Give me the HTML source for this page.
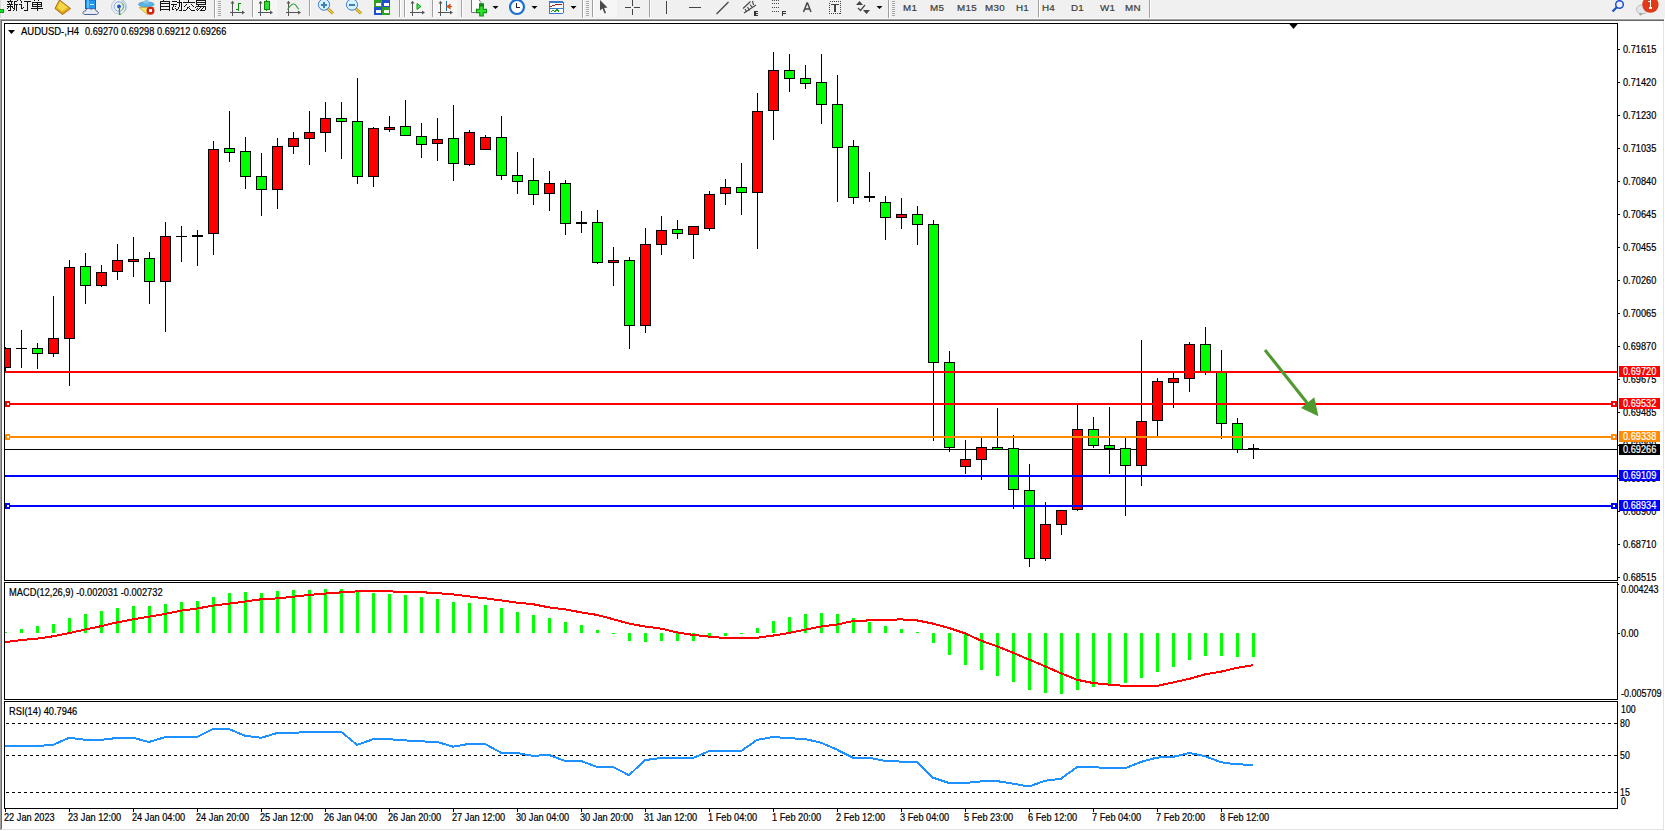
<!DOCTYPE html>
<html><head><meta charset="utf-8"><style>
html,body{margin:0;padding:0;width:1665px;height:831px;overflow:hidden;background:#fff}
svg{display:block;font-family:"Liberation Sans",sans-serif;font-size:10px}
text{stroke-width:0.2}
</style></head><body>
<svg width="1665" height="831" viewBox="0 0 1665 831" shape-rendering="crispEdges">
<defs>
<clipPath id="cm"><rect x="5" y="24" width="1612" height="556"/></clipPath>
<clipPath id="cd"><rect x="5" y="583" width="1612" height="116"/></clipPath>
<clipPath id="cr"><rect x="5" y="702" width="1612" height="106"/></clipPath>
</defs>
<!-- toolbar -->
<rect x="0" y="0" width="1665" height="19" fill="#f0f0f0"/>
<rect x="0" y="18" width="1665" height="1" fill="#f7f7f7"/>
<rect x="0" y="19" width="1664" height="1" fill="#a0a0a0"/>
<rect x="0" y="20" width="1664" height="1" fill="#696969"/>
<rect x="0" y="0" width="1" height="18" fill="#d8d8d8"/><rect x="0" y="9" width="4" height="4" fill="#0a9a0a"/><rect x="0" y="10" width="3" height="2" fill="#10e030"/><g fill="#141414"><rect x="10" y="0" width="1" height="1"/><rect x="7" y="1" width="6" height="1"/><rect x="8" y="2" width="1" height="1"/><rect x="9" y="3" width="1" height="1"/><rect x="11" y="2" width="1" height="2"/><rect x="7" y="4" width="6" height="1"/><rect x="10" y="5" width="1" height="5"/><rect x="7" y="6" width="6" height="1"/><rect x="8" y="7" width="1" height="1"/><rect x="7" y="8" width="1" height="1"/><rect x="12" y="7" width="1" height="1"/><rect x="13" y="8" width="1" height="1"/><rect x="8" y="10" width="3" height="1"/><rect x="17" y="0" width="1" height="1"/><rect x="14" y="1" width="3" height="1"/><rect x="14" y="2" width="1" height="8"/><rect x="13" y="10" width="1" height="1"/><rect x="14" y="4" width="4" height="1"/><rect x="16" y="5" width="1" height="6"/></g><g fill="#141414"><rect x="20" y="0" width="1" height="1"/><rect x="21" y="1" width="1" height="2"/><rect x="19" y="4" width="3" height="1"/><rect x="21" y="5" width="1" height="4"/><rect x="22" y="8" width="1" height="1"/><rect x="23" y="7" width="1" height="1"/><rect x="24" y="1" width="7" height="1"/><rect x="27" y="2" width="1" height="8"/><rect x="24" y="10" width="4" height="1"/></g><g fill="#141414"><rect x="34" y="0" width="1" height="1"/><rect x="38" y="0" width="1" height="1"/><rect x="32" y="2" width="1" height="5"/><rect x="41" y="2" width="1" height="5"/><rect x="33" y="2" width="8" height="1"/><rect x="33" y="4" width="8" height="1"/><rect x="33" y="6" width="8" height="1"/><rect x="37" y="3" width="1" height="8"/><rect x="31" y="8" width="12" height="1"/></g><polygon points="59.5,0 70.5,8.5 62.5,14.5 55,8.5" fill="#e8b820" stroke="#a86a10" stroke-width="1" shape-rendering="auto"/><polygon points="56.5,8.5 62.5,13 69,8.5 70.5,9 62.5,14.5 55.5,9.2" fill="#c88a20" shape-rendering="auto"/><polygon points="60,1.5 67.5,7.2 62,11 57.5,7.5" fill="#f7d84a" shape-rendering="auto"/><rect x="85.5" y="0" width="10" height="8.5" fill="#1e9af2" stroke="#1060c8" stroke-width="1" shape-rendering="auto"/><rect x="86.5" y="0" width="2" height="8" fill="#5cc0ff"/><rect x="90" y="4" width="4" height="1" fill="#fff"/><path d="M85,14.5 C82,14.5 82.5,10.5 85.5,11 C86,8 90,7.5 91,9.5 C92.5,7.8 96,8.5 96,11 C99,11 99,14.5 96.5,14.5 Z" fill="#e6eaf2" stroke="#4a64a0" stroke-width="1" shape-rendering="auto"/><g fill="none" shape-rendering="auto"><circle cx="119" cy="6.5" r="7.5" stroke="#a8c0e8" stroke-width="0.9"/><circle cx="119" cy="6.5" r="4.8" stroke="#7898d8" stroke-width="0.9"/><path d="M121.5,0.5 A7.5,7.5 0 0,1 124,12" stroke="#98c898" stroke-width="1"/><path d="M121,2.5 A4.8,4.8 0 0,1 122,10" stroke="#70b070" stroke-width="1"/><circle cx="119" cy="6.5" r="1.9" fill="#2050c0"/><path d="M119.5,7V14.3H120.8" stroke="#20a020" stroke-width="1.2"/></g><path d="M139,7.5 L154,7.5 L147.5,14.8 Z" fill="#f2e470" stroke="#c8a828" stroke-width="0.8" shape-rendering="auto"/><path d="M138.5,4.5 C138.5,1 154,1 154,4.5 C154,7.5 138.5,7.5 138.5,4.5 Z" fill="#5ab4e4" stroke="#3a88b8" stroke-width="0.7" shape-rendering="auto"/><path d="M143.5,3.5 L145,0 H148 L149,3.5 Z" fill="#80c8f0" shape-rendering="auto"/><circle cx="150.5" cy="10.8" r="4" fill="#d42412" shape-rendering="auto"/><rect x="149" y="9.3" width="3" height="3" fill="#fff"/><g fill="#141414"><rect x="163" y="0" width="1" height="1"/><rect x="160" y="1" width="1" height="10"/><rect x="169" y="1" width="1" height="10"/><rect x="161" y="1" width="8" height="1"/><rect x="161" y="3" width="8" height="1"/><rect x="161" y="6" width="8" height="1"/><rect x="161" y="9" width="8" height="1"/></g><g fill="#141414"><rect x="172" y="1" width="5" height="1"/><rect x="171" y="4" width="6" height="1"/><rect x="173" y="5" width="1" height="2"/><rect x="172" y="7" width="1" height="2"/><rect x="172" y="9" width="2" height="1"/><rect x="175" y="6" width="1" height="1"/><rect x="175" y="8" width="1" height="1"/><rect x="176" y="9" width="1" height="1"/><rect x="179" y="0" width="1" height="7"/><rect x="178" y="7" width="1" height="2"/><rect x="177" y="9" width="1" height="1"/><rect x="176" y="10" width="1" height="1"/><rect x="177" y="2" width="5" height="1"/><rect x="181" y="3" width="1" height="7"/><rect x="179" y="10" width="3" height="1"/></g><g fill="#141414"><rect x="188" y="0" width="1" height="2"/><rect x="183" y="2" width="12" height="1"/><rect x="186" y="4" width="1" height="1"/><rect x="185" y="5" width="1" height="1"/><rect x="184" y="6" width="1" height="1"/><rect x="191" y="4" width="1" height="1"/><rect x="192" y="5" width="1" height="1"/><rect x="193" y="6" width="1" height="1"/><rect x="189" y="6" width="1" height="1"/><rect x="188" y="7" width="1" height="1"/><rect x="187" y="8" width="1" height="1"/><rect x="186" y="9" width="1" height="1"/><rect x="183" y="10" width="3" height="1"/><rect x="187" y="7" width="1" height="1"/><rect x="189" y="8" width="1" height="1"/><rect x="190" y="9" width="1" height="1"/><rect x="191" y="10" width="4" height="1"/></g><g fill="#141414"><rect x="196" y="0" width="1" height="5"/><rect x="205" y="0" width="1" height="5"/><rect x="197" y="0" width="8" height="1"/><rect x="197" y="2" width="8" height="1"/><rect x="197" y="4" width="8" height="1"/><rect x="198" y="5" width="1" height="1"/><rect x="196" y="6" width="10" height="1"/><rect x="205" y="7" width="1" height="3"/><rect x="204" y="10" width="1" height="1"/><rect x="195" y="7" width="1" height="1"/><rect x="197" y="8" width="1" height="1"/><rect x="196" y="9" width="1" height="1"/><rect x="200" y="7" width="1" height="1"/><rect x="199" y="8" width="1" height="1"/><rect x="198" y="9" width="1" height="1"/><rect x="197" y="10" width="1" height="1"/><rect x="203" y="7" width="1" height="1"/><rect x="202" y="8" width="1" height="1"/><rect x="201" y="9" width="1" height="1"/><rect x="200" y="10" width="1" height="1"/><rect x="201" y="10" width="3" height="1"/></g><rect x="214" y="0" width="1" height="18" fill="#a0a0a0"/><rect x="215" y="0" width="1" height="18" fill="#fff"/><rect x="218" y="1" width="3" height="1" fill="#a8a8a8"/><rect x="218" y="3" width="3" height="1" fill="#a8a8a8"/><rect x="218" y="5" width="3" height="1" fill="#a8a8a8"/><rect x="218" y="7" width="3" height="1" fill="#a8a8a8"/><rect x="218" y="9" width="3" height="1" fill="#a8a8a8"/><rect x="218" y="11" width="3" height="1" fill="#a8a8a8"/><rect x="218" y="13" width="3" height="1" fill="#a8a8a8"/><rect x="218" y="15" width="3" height="1" fill="#a8a8a8"/><rect x="254" y="0" width="23" height="17" fill="#f6f6f6"/><path d="M232.5,1.5V15.5 M230,12.5H243.5" stroke="#555" stroke-width="1.2" fill="none"/><polygon points="230.5,3.5 232.5,0.8 234.5,3.5" fill="#555" shape-rendering="auto"/><polygon points="242,10.5 245,12.5 242,14.5" fill="#555" shape-rendering="auto"/><path d="M238.5,2.5V10.5 M238.5,3.5H241 M236,9.5H238.5" stroke="#109010" stroke-width="1.2" fill="none"/><rect x="252" y="0" width="1" height="17" fill="#a0a0a0"/><rect x="253" y="0" width="1" height="17" fill="#fff"/><path d="M260.5,1.5V15.5 M258,12.5H271.5" stroke="#555" stroke-width="1.2" fill="none"/><polygon points="258.5,3.5 260.5,0.8 262.5,3.5" fill="#555" shape-rendering="auto"/><polygon points="270,10.5 273,12.5 270,14.5" fill="#555" shape-rendering="auto"/><rect x="266" y="0" width="1" height="10.5" fill="#0a8a0a"/><rect x="264" y="1.5" width="5" height="7.5" fill="#30e030" stroke="#0a8a0a" stroke-width="1"/><path d="M288.5,1.5V15.5 M286,12.5H299.5" stroke="#555" stroke-width="1.2" fill="none"/><polygon points="286.5,3.5 288.5,0.8 290.5,3.5" fill="#555" shape-rendering="auto"/><polygon points="298,10.5 301,12.5 298,14.5" fill="#555" shape-rendering="auto"/><path d="M287.5,9.5 Q293,1 296,5.5 T298.5,8.5" stroke="#30a030" stroke-width="1.1" fill="none" shape-rendering="auto"/><rect x="309" y="0" width="1" height="16" fill="#a0a0a0"/><rect x="310" y="0" width="1" height="16" fill="#fff"/><path d="M327.5,8.5L333,13.5" stroke="#b08010" stroke-width="3" shape-rendering="auto"/><path d="M327.5,8.5L333,13.5" stroke="#f0d040" stroke-width="1.6" shape-rendering="auto"/><circle cx="324" cy="4.6" r="5.6" fill="#d8f2ff" stroke="#3a7cc8" stroke-width="1" shape-rendering="auto"/><rect x="321" y="4" width="6" height="1.6" fill="#3a80b8"/><rect x="323.2" y="1.8" width="1.6" height="6" fill="#3a80b8"/><path d="M355.5,8.5L361,13.5" stroke="#b08010" stroke-width="3" shape-rendering="auto"/><path d="M355.5,8.5L361,13.5" stroke="#f0d040" stroke-width="1.6" shape-rendering="auto"/><circle cx="352" cy="4.6" r="5.6" fill="#d8f2ff" stroke="#3a7cc8" stroke-width="1" shape-rendering="auto"/><rect x="349" y="4" width="6" height="1.6" fill="#3a80b8"/><rect x="374" y="0" width="8" height="7" fill="#30a020"/><rect x="382" y="0" width="8" height="7" fill="#2050d0"/><rect x="374" y="7" width="8" height="8" fill="#2050d0"/><rect x="382" y="7" width="8" height="8" fill="#30a020"/><rect x="375.5" y="2.5" width="5" height="3" fill="#fff"/><rect x="383.5" y="2.5" width="5" height="3" fill="#fff"/><rect x="375.5" y="10" width="5" height="3" fill="#fff"/><rect x="383.5" y="10" width="5" height="3" fill="#fff"/><rect x="399" y="0" width="1" height="17" fill="#a0a0a0"/><rect x="400" y="0" width="1" height="17" fill="#fff"/><rect x="404" y="0" width="1" height="17" fill="#a0a0a0"/><rect x="405" y="0" width="1" height="17" fill="#fff"/><rect x="406" y="0" width="23" height="17" fill="#f6f6f6"/><path d="M412.5,1.5V15.5 M410,12.5H423.5" stroke="#555" stroke-width="1.2" fill="none"/><polygon points="410.5,3.5 412.5,0.8 414.5,3.5" fill="#555" shape-rendering="auto"/><polygon points="422,10.5 425,12.5 422,14.5" fill="#555" shape-rendering="auto"/><polygon points="417,3.5 421,6.5 417,9.5" fill="#50e050" stroke="#10a010" stroke-width="1" shape-rendering="auto"/><rect x="432" y="0" width="1" height="17" fill="#a0a0a0"/><rect x="433" y="0" width="1" height="17" fill="#fff"/><rect x="434" y="0" width="23" height="17" fill="#f6f6f6"/><path d="M440.5,1.5V15.5 M438,12.5H451.5" stroke="#555" stroke-width="1.2" fill="none"/><polygon points="438.5,3.5 440.5,0.8 442.5,3.5" fill="#555" shape-rendering="auto"/><polygon points="450,10.5 453,12.5 450,14.5" fill="#555" shape-rendering="auto"/><rect x="446" y="1" width="1" height="10" fill="#1a70a0"/><path d="M447,6.5L450,4.5V8.5Z M449,6.5H452" stroke="#e05010" stroke-width="1.2" fill="#e05010" shape-rendering="auto"/><rect x="461" y="0" width="1" height="17" fill="#a0a0a0"/><rect x="462" y="0" width="1" height="17" fill="#fff"/><path d="M471.5,0V12.5H481V2.5L479,0" fill="#fff" stroke="#777" stroke-width="1" shape-rendering="auto"/><path d="M479,5.5H484 M481.5,5.5V16.5 M476,11H487" stroke="#0a8a0a" stroke-width="4.6" shape-rendering="auto"/><path d="M481.5,6.5V15.5 M477,11H486" stroke="#30e030" stroke-width="2.6" shape-rendering="auto"/><polygon points="492.5,6 498.5,6 495.5,9" fill="#000" shape-rendering="auto"/><circle cx="517" cy="7" r="7" fill="#fff" stroke="#1a70d0" stroke-width="2.2" shape-rendering="auto"/><path d="M516.5,3V7.5H519.5" stroke="#222" stroke-width="1" fill="none"/><polygon points="531.5,6 537.5,6 534.5,9" fill="#000" shape-rendering="auto"/><rect x="548.5" y="0.5" width="15" height="13.5" fill="#3a7ac8" rx="1"/><rect x="549.5" y="2.5" width="13" height="5.5" fill="#fff"/><rect x="549.5" y="9" width="13" height="4" fill="#fff"/><path d="M550,6H552L553.5,5H555L556,4L558,5L560,4H562" stroke="#a02010" stroke-width="1" fill="none"/><path d="M551,11.5L553,10.5L555,11.5L557,9.5L559,11.5" stroke="#10a010" stroke-width="1" fill="none"/><polygon points="570.5,6 576.5,6 573.5,9" fill="#000" shape-rendering="auto"/><rect x="582" y="0" width="1" height="18" fill="#a0a0a0"/><rect x="583" y="0" width="1" height="18" fill="#fff"/><rect x="586" y="1" width="3" height="1" fill="#a8a8a8"/><rect x="586" y="3" width="3" height="1" fill="#a8a8a8"/><rect x="586" y="5" width="3" height="1" fill="#a8a8a8"/><rect x="586" y="7" width="3" height="1" fill="#a8a8a8"/><rect x="586" y="9" width="3" height="1" fill="#a8a8a8"/><rect x="586" y="11" width="3" height="1" fill="#a8a8a8"/><rect x="586" y="13" width="3" height="1" fill="#a8a8a8"/><rect x="586" y="15" width="3" height="1" fill="#a8a8a8"/><rect x="592" y="0" width="1" height="17" fill="#a0a0a0"/><rect x="593" y="0" width="1" height="17" fill="#fff"/><rect x="594" y="0" width="23" height="17" fill="#f6f6f6"/><polygon points="600,0 600,10.5 602.5,8.5 604.5,13.5 606,13 604.2,8 607.5,7.5" fill="#4a4a4a" shape-rendering="auto"/><path d="M625,7.5H631 M634,7.5H640 M632.5,0V6 M632.5,9V15" stroke="#444" stroke-width="1.2" fill="none"/><rect x="649" y="0" width="1" height="17" fill="#a0a0a0"/><rect x="650" y="0" width="1" height="17" fill="#fff"/><rect x="666" y="1" width="1.3" height="13" fill="#444"/><rect x="689" y="7" width="12" height="1.3" fill="#444"/><path d="M716.5,14L728.5,2" stroke="#444" stroke-width="1.2" fill="none" shape-rendering="auto"/><path d="M743,8.5L750.5,1.5 M744,13L756,5 M745,9L747,12 M747.5,7L749.5,10.5 M750,4.5L752.5,8 M752.5,1L753.5,5" stroke="#444" stroke-width="1.1" fill="none" shape-rendering="auto"/><path d="M758,11.5H755V15.5H758 M755,13.5H757.5" stroke="#333" stroke-width="1.1" fill="none"/><path d="M772,0.5H780 M772,3.5H780 M772,7.5H780 M772,11.5H779" stroke="#444" stroke-width="1" stroke-dasharray="1,1" fill="none"/><path d="M786,11.5H782.5V16 M782.5,13.5H785.5" stroke="#333" stroke-width="1.1" fill="none"/><path d="M803.5,12L807,3H807.5L811,12 M804.8,9H809.7" stroke="#444" stroke-width="1.4" fill="none" shape-rendering="auto"/><rect x="829.5" y="1.5" width="11" height="12" fill="none" stroke="#444" stroke-width="1" stroke-dasharray="1,1"/><path d="M831,4.5H839 M835,4.5V12" stroke="#444" stroke-width="1.4" fill="none"/><polygon points="856,5 859.5,1 863,5" fill="#444" shape-rendering="auto"/><polygon points="863,10 870,10 866.5,14" fill="#444" shape-rendering="auto"/><path d="M858,8L860.5,10.5L865,5" stroke="#444" stroke-width="1.2" fill="none" shape-rendering="auto"/><polygon points="876.5,6 882.5,6 879.5,9" fill="#000" shape-rendering="auto"/><rect x="888" y="0" width="1" height="18" fill="#a0a0a0"/><rect x="889" y="0" width="1" height="18" fill="#fff"/><rect x="892" y="1" width="3" height="1" fill="#a8a8a8"/><rect x="892" y="3" width="3" height="1" fill="#a8a8a8"/><rect x="892" y="5" width="3" height="1" fill="#a8a8a8"/><rect x="892" y="7" width="3" height="1" fill="#a8a8a8"/><rect x="892" y="9" width="3" height="1" fill="#a8a8a8"/><rect x="892" y="11" width="3" height="1" fill="#a8a8a8"/><rect x="892" y="13" width="3" height="1" fill="#a8a8a8"/><rect x="892" y="15" width="3" height="1" fill="#a8a8a8"/><text x="903" y="11" font-size="9.8" fill="#3a3a3a" stroke="#3a3a3a" stroke-width="0.05" letter-spacing="0.3">M1</text><text x="930" y="11" font-size="9.8" fill="#3a3a3a" stroke="#3a3a3a" stroke-width="0.05" letter-spacing="0.3">M5</text><text x="957" y="11" font-size="9.8" fill="#3a3a3a" stroke="#3a3a3a" stroke-width="0.05" letter-spacing="0.3">M15</text><text x="985" y="11" font-size="9.8" fill="#3a3a3a" stroke="#3a3a3a" stroke-width="0.05" letter-spacing="0.3">M30</text><text x="1016" y="11" font-size="9.8" fill="#3a3a3a" stroke="#3a3a3a" stroke-width="0.05" letter-spacing="0.3">H1</text><text x="1042" y="11" font-size="9.8" fill="#3a3a3a" stroke="#3a3a3a" stroke-width="0.05" letter-spacing="0.3">H4</text><text x="1071" y="11" font-size="9.8" fill="#3a3a3a" stroke="#3a3a3a" stroke-width="0.05" letter-spacing="0.3">D1</text><text x="1100" y="11" font-size="9.8" fill="#3a3a3a" stroke="#3a3a3a" stroke-width="0.05" letter-spacing="0.3">W1</text><text x="1125" y="11" font-size="9.8" fill="#3a3a3a" stroke="#3a3a3a" stroke-width="0.05" letter-spacing="0.3">MN</text><rect x="1038" y="0" width="1" height="17" fill="#a0a0a0"/><rect x="1039" y="0" width="1" height="17" fill="#fff"/><rect x="1149" y="0" width="1" height="18" fill="#a0a0a0"/><rect x="1150" y="0" width="1" height="18" fill="#fff"/><circle cx="1619.5" cy="4.5" r="3.8" fill="#eef" stroke="#1a50c8" stroke-width="1.5" shape-rendering="auto"/><path d="M1617,7L1612.5,11.5" stroke="#1a50c8" stroke-width="2.2" shape-rendering="auto"/><ellipse cx="1642" cy="9.5" rx="5.5" ry="4.5" fill="#e4e6ee" stroke="#b8b8b8" stroke-width="1" shape-rendering="auto"/><polygon points="1639,13 1640,16 1643,13" fill="#a0a0a0" shape-rendering="auto"/><circle cx="1650.4" cy="4.6" r="8.2" fill="#e03a18" shape-rendering="auto"/><path d="M1648.5,8H1652 M1650.3,8V1L1648.8,2" stroke="#fff" stroke-width="1.2" fill="none"/>
<!-- window edges -->
<rect x="0" y="19" width="1" height="811" fill="#a0a0a0"/>
<rect x="1" y="20" width="1" height="809" fill="#696969"/>
<rect x="1663" y="21" width="1" height="809" fill="#e3e3e3"/>
<rect x="1" y="829" width="1663" height="1" fill="#e3e3e3"/>
<!-- frames -->
<rect x="4" y="23" width="1614" height="1" fill="#000"/>
<rect x="4" y="580" width="1614" height="1" fill="#000"/>
<rect x="4" y="582" width="1614" height="1" fill="#000"/>
<rect x="4" y="699" width="1614" height="1" fill="#000"/>
<rect x="4" y="701" width="1614" height="1" fill="#000"/>
<rect x="4" y="808" width="1614" height="1" fill="#000"/>
<rect x="4" y="23" width="1" height="558" fill="#000"/>
<rect x="4" y="582" width="1" height="118" fill="#000"/>
<rect x="4" y="701" width="1" height="108" fill="#000"/>
<rect x="1617" y="23" width="1" height="558" fill="#000"/>
<rect x="1617" y="582" width="1" height="118" fill="#000"/>
<rect x="1617" y="701" width="1" height="108" fill="#000"/>
<polygon points="1288.5,23 1298.5,23 1293.5,29" fill="#000" shape-rendering="auto"/>
<g clip-path="url(#cm)"><rect x="5" y="449" width="1612" height="1" fill="#000"/><rect x="5" y="347" width="1" height="24" fill="#000"/><rect x="0" y="348" width="11" height="20" fill="#000"/><rect x="1" y="349" width="9" height="18" fill="#ff0000"/><rect x="21" y="330" width="1" height="38" fill="#000"/><rect x="16" y="348" width="11" height="1" fill="#000"/><rect x="37" y="343" width="1" height="26" fill="#000"/><rect x="32" y="348" width="11" height="6" fill="#000"/><rect x="33" y="349" width="9" height="4" fill="#00ff00"/><rect x="53" y="296" width="1" height="61" fill="#000"/><rect x="48" y="338" width="11" height="16" fill="#000"/><rect x="49" y="339" width="9" height="14" fill="#ff0000"/><rect x="69" y="260" width="1" height="126" fill="#000"/><rect x="64" y="267" width="11" height="72" fill="#000"/><rect x="65" y="268" width="9" height="70" fill="#ff0000"/><rect x="85" y="253" width="1" height="51" fill="#000"/><rect x="80" y="266" width="11" height="20" fill="#000"/><rect x="81" y="267" width="9" height="18" fill="#00ff00"/><rect x="101" y="265" width="1" height="22" fill="#000"/><rect x="96" y="272" width="11" height="14" fill="#000"/><rect x="97" y="273" width="9" height="12" fill="#ff0000"/><rect x="117" y="244" width="1" height="36" fill="#000"/><rect x="112" y="260" width="11" height="12" fill="#000"/><rect x="113" y="261" width="9" height="10" fill="#ff0000"/><rect x="133" y="237" width="1" height="40" fill="#000"/><rect x="128" y="259" width="11" height="3" fill="#000"/><rect x="129" y="260" width="9" height="1" fill="#ff0000"/><rect x="149" y="252" width="1" height="52" fill="#000"/><rect x="144" y="258" width="11" height="24" fill="#000"/><rect x="145" y="259" width="9" height="22" fill="#00ff00"/><rect x="165" y="222" width="1" height="110" fill="#000"/><rect x="160" y="236" width="11" height="46" fill="#000"/><rect x="161" y="237" width="9" height="44" fill="#ff0000"/><rect x="181" y="226" width="1" height="36" fill="#000"/><rect x="176" y="236" width="11" height="1" fill="#000"/><rect x="197" y="230" width="1" height="36" fill="#000"/><rect x="192" y="235" width="11" height="2" fill="#000"/><rect x="213" y="141" width="1" height="114" fill="#000"/><rect x="208" y="149" width="11" height="85" fill="#000"/><rect x="209" y="150" width="9" height="83" fill="#ff0000"/><rect x="229" y="111" width="1" height="51" fill="#000"/><rect x="224" y="148" width="11" height="5" fill="#000"/><rect x="225" y="149" width="9" height="3" fill="#00ff00"/><rect x="245" y="137" width="1" height="52" fill="#000"/><rect x="240" y="151" width="11" height="26" fill="#000"/><rect x="241" y="152" width="9" height="24" fill="#00ff00"/><rect x="261" y="153" width="1" height="63" fill="#000"/><rect x="256" y="176" width="11" height="14" fill="#000"/><rect x="257" y="177" width="9" height="12" fill="#00ff00"/><rect x="277" y="138" width="1" height="71" fill="#000"/><rect x="272" y="146" width="11" height="44" fill="#000"/><rect x="273" y="147" width="9" height="42" fill="#ff0000"/><rect x="293" y="132" width="1" height="22" fill="#000"/><rect x="288" y="138" width="11" height="9" fill="#000"/><rect x="289" y="139" width="9" height="7" fill="#ff0000"/><rect x="309" y="111" width="1" height="54" fill="#000"/><rect x="304" y="132" width="11" height="7" fill="#000"/><rect x="305" y="133" width="9" height="5" fill="#ff0000"/><rect x="325" y="102" width="1" height="50" fill="#000"/><rect x="320" y="118" width="11" height="15" fill="#000"/><rect x="321" y="119" width="9" height="13" fill="#ff0000"/><rect x="341" y="102" width="1" height="57" fill="#000"/><rect x="336" y="118" width="11" height="4" fill="#000"/><rect x="337" y="119" width="9" height="2" fill="#00ff00"/><rect x="357" y="78" width="1" height="106" fill="#000"/><rect x="352" y="121" width="11" height="56" fill="#000"/><rect x="353" y="122" width="9" height="54" fill="#00ff00"/><rect x="373" y="127" width="1" height="60" fill="#000"/><rect x="368" y="128" width="11" height="49" fill="#000"/><rect x="369" y="129" width="9" height="47" fill="#ff0000"/><rect x="389" y="116" width="1" height="16" fill="#000"/><rect x="384" y="127" width="11" height="3" fill="#000"/><rect x="385" y="128" width="9" height="1" fill="#ff0000"/><rect x="405" y="100" width="1" height="36" fill="#000"/><rect x="400" y="126" width="11" height="10" fill="#000"/><rect x="401" y="127" width="9" height="8" fill="#00ff00"/><rect x="421" y="123" width="1" height="35" fill="#000"/><rect x="416" y="136" width="11" height="9" fill="#000"/><rect x="417" y="137" width="9" height="7" fill="#00ff00"/><rect x="437" y="118" width="1" height="43" fill="#000"/><rect x="432" y="139" width="11" height="5" fill="#000"/><rect x="433" y="140" width="9" height="3" fill="#ff0000"/><rect x="453" y="105" width="1" height="76" fill="#000"/><rect x="448" y="138" width="11" height="26" fill="#000"/><rect x="449" y="139" width="9" height="24" fill="#00ff00"/><rect x="469" y="130" width="1" height="36" fill="#000"/><rect x="464" y="132" width="11" height="33" fill="#000"/><rect x="465" y="133" width="9" height="31" fill="#ff0000"/><rect x="485" y="135" width="1" height="15" fill="#000"/><rect x="480" y="137" width="11" height="13" fill="#000"/><rect x="481" y="138" width="9" height="11" fill="#ff0000"/><rect x="501" y="116" width="1" height="64" fill="#000"/><rect x="496" y="137" width="11" height="39" fill="#000"/><rect x="497" y="138" width="9" height="37" fill="#00ff00"/><rect x="517" y="152" width="1" height="42" fill="#000"/><rect x="512" y="175" width="11" height="7" fill="#000"/><rect x="513" y="176" width="9" height="5" fill="#00ff00"/><rect x="533" y="158" width="1" height="47" fill="#000"/><rect x="528" y="180" width="11" height="15" fill="#000"/><rect x="529" y="181" width="9" height="13" fill="#00ff00"/><rect x="549" y="171" width="1" height="40" fill="#000"/><rect x="544" y="183" width="11" height="11" fill="#000"/><rect x="545" y="184" width="9" height="9" fill="#ff0000"/><rect x="565" y="180" width="1" height="55" fill="#000"/><rect x="560" y="183" width="11" height="41" fill="#000"/><rect x="561" y="184" width="9" height="39" fill="#00ff00"/><rect x="581" y="211" width="1" height="22" fill="#000"/><rect x="576" y="222" width="11" height="2" fill="#000"/><rect x="597" y="210" width="1" height="54" fill="#000"/><rect x="592" y="222" width="11" height="41" fill="#000"/><rect x="593" y="223" width="9" height="39" fill="#00ff00"/><rect x="613" y="247" width="1" height="39" fill="#000"/><rect x="608" y="260" width="11" height="3" fill="#000"/><rect x="609" y="261" width="9" height="1" fill="#ff0000"/><rect x="629" y="257" width="1" height="92" fill="#000"/><rect x="624" y="260" width="11" height="66" fill="#000"/><rect x="625" y="261" width="9" height="64" fill="#00ff00"/><rect x="645" y="228" width="1" height="105" fill="#000"/><rect x="640" y="244" width="11" height="82" fill="#000"/><rect x="641" y="245" width="9" height="80" fill="#ff0000"/><rect x="661" y="216" width="1" height="39" fill="#000"/><rect x="656" y="230" width="11" height="15" fill="#000"/><rect x="657" y="231" width="9" height="13" fill="#ff0000"/><rect x="677" y="220" width="1" height="19" fill="#000"/><rect x="672" y="229" width="11" height="5" fill="#000"/><rect x="673" y="230" width="9" height="3" fill="#00ff00"/><rect x="693" y="226" width="1" height="33" fill="#000"/><rect x="688" y="226" width="11" height="9" fill="#000"/><rect x="689" y="227" width="9" height="7" fill="#ff0000"/><rect x="709" y="191" width="1" height="40" fill="#000"/><rect x="704" y="194" width="11" height="35" fill="#000"/><rect x="705" y="195" width="9" height="33" fill="#ff0000"/><rect x="725" y="179" width="1" height="26" fill="#000"/><rect x="720" y="187" width="11" height="7" fill="#000"/><rect x="721" y="188" width="9" height="5" fill="#ff0000"/><rect x="741" y="163" width="1" height="52" fill="#000"/><rect x="736" y="187" width="11" height="6" fill="#000"/><rect x="737" y="188" width="9" height="4" fill="#00ff00"/><rect x="757" y="93" width="1" height="156" fill="#000"/><rect x="752" y="111" width="11" height="82" fill="#000"/><rect x="753" y="112" width="9" height="80" fill="#ff0000"/><rect x="773" y="52" width="1" height="88" fill="#000"/><rect x="768" y="70" width="11" height="41" fill="#000"/><rect x="769" y="71" width="9" height="39" fill="#ff0000"/><rect x="789" y="54" width="1" height="38" fill="#000"/><rect x="784" y="70" width="11" height="9" fill="#000"/><rect x="785" y="71" width="9" height="7" fill="#00ff00"/><rect x="805" y="65" width="1" height="24" fill="#000"/><rect x="800" y="78" width="11" height="6" fill="#000"/><rect x="801" y="79" width="9" height="4" fill="#00ff00"/><rect x="821" y="54" width="1" height="70" fill="#000"/><rect x="816" y="82" width="11" height="23" fill="#000"/><rect x="817" y="83" width="9" height="21" fill="#00ff00"/><rect x="837" y="75" width="1" height="127" fill="#000"/><rect x="832" y="104" width="11" height="44" fill="#000"/><rect x="833" y="105" width="9" height="42" fill="#00ff00"/><rect x="853" y="140" width="1" height="64" fill="#000"/><rect x="848" y="146" width="11" height="52" fill="#000"/><rect x="849" y="147" width="9" height="50" fill="#00ff00"/><rect x="869" y="172" width="1" height="30" fill="#000"/><rect x="864" y="196" width="11" height="2" fill="#000"/><rect x="885" y="196" width="1" height="44" fill="#000"/><rect x="880" y="202" width="11" height="16" fill="#000"/><rect x="881" y="203" width="9" height="14" fill="#00ff00"/><rect x="901" y="198" width="1" height="31" fill="#000"/><rect x="896" y="214" width="11" height="4" fill="#000"/><rect x="897" y="215" width="9" height="2" fill="#ff0000"/><rect x="917" y="206" width="1" height="39" fill="#000"/><rect x="912" y="214" width="11" height="11" fill="#000"/><rect x="913" y="215" width="9" height="9" fill="#00ff00"/><rect x="933" y="220" width="1" height="221" fill="#000"/><rect x="928" y="224" width="11" height="139" fill="#000"/><rect x="929" y="225" width="9" height="137" fill="#00ff00"/><rect x="949" y="351" width="1" height="101" fill="#000"/><rect x="944" y="362" width="11" height="86" fill="#000"/><rect x="945" y="363" width="9" height="84" fill="#00ff00"/><rect x="965" y="440" width="1" height="34" fill="#000"/><rect x="960" y="459" width="11" height="8" fill="#000"/><rect x="961" y="460" width="9" height="6" fill="#ff0000"/><rect x="981" y="438" width="1" height="42" fill="#000"/><rect x="976" y="447" width="11" height="13" fill="#000"/><rect x="977" y="448" width="9" height="11" fill="#ff0000"/><rect x="997" y="408" width="1" height="42" fill="#000"/><rect x="992" y="447" width="11" height="3" fill="#000"/><rect x="993" y="448" width="9" height="1" fill="#00ff00"/><rect x="1013" y="435" width="1" height="74" fill="#000"/><rect x="1008" y="448" width="11" height="42" fill="#000"/><rect x="1009" y="449" width="9" height="40" fill="#00ff00"/><rect x="1029" y="464" width="1" height="103" fill="#000"/><rect x="1024" y="490" width="11" height="69" fill="#000"/><rect x="1025" y="491" width="9" height="67" fill="#00ff00"/><rect x="1045" y="502" width="1" height="59" fill="#000"/><rect x="1040" y="524" width="11" height="35" fill="#000"/><rect x="1041" y="525" width="9" height="33" fill="#ff0000"/><rect x="1061" y="510" width="1" height="25" fill="#000"/><rect x="1056" y="510" width="11" height="15" fill="#000"/><rect x="1057" y="511" width="9" height="13" fill="#ff0000"/><rect x="1077" y="404" width="1" height="107" fill="#000"/><rect x="1072" y="429" width="11" height="81" fill="#000"/><rect x="1073" y="430" width="9" height="79" fill="#ff0000"/><rect x="1093" y="417" width="1" height="31" fill="#000"/><rect x="1088" y="429" width="11" height="17" fill="#000"/><rect x="1089" y="430" width="9" height="15" fill="#00ff00"/><rect x="1109" y="407" width="1" height="67" fill="#000"/><rect x="1104" y="445" width="11" height="4" fill="#000"/><rect x="1105" y="446" width="9" height="2" fill="#00ff00"/><rect x="1125" y="438" width="1" height="78" fill="#000"/><rect x="1120" y="448" width="11" height="18" fill="#000"/><rect x="1121" y="449" width="9" height="16" fill="#00ff00"/><rect x="1141" y="340" width="1" height="146" fill="#000"/><rect x="1136" y="421" width="11" height="45" fill="#000"/><rect x="1137" y="422" width="9" height="43" fill="#ff0000"/><rect x="1157" y="378" width="1" height="59" fill="#000"/><rect x="1152" y="381" width="11" height="40" fill="#000"/><rect x="1153" y="382" width="9" height="38" fill="#ff0000"/><rect x="1173" y="373" width="1" height="35" fill="#000"/><rect x="1168" y="378" width="11" height="5" fill="#000"/><rect x="1169" y="379" width="9" height="3" fill="#ff0000"/><rect x="1189" y="342" width="1" height="50" fill="#000"/><rect x="1184" y="344" width="11" height="35" fill="#000"/><rect x="1185" y="345" width="9" height="33" fill="#ff0000"/><rect x="1205" y="327" width="1" height="48" fill="#000"/><rect x="1200" y="344" width="11" height="28" fill="#000"/><rect x="1201" y="345" width="9" height="26" fill="#00ff00"/><rect x="1221" y="350" width="1" height="89" fill="#000"/><rect x="1216" y="372" width="11" height="52" fill="#000"/><rect x="1217" y="373" width="9" height="50" fill="#00ff00"/><rect x="1237" y="418" width="1" height="35" fill="#000"/><rect x="1232" y="423" width="11" height="27" fill="#000"/><rect x="1233" y="424" width="9" height="25" fill="#00ff00"/><rect x="1253" y="444" width="1" height="15" fill="#000"/><rect x="1248" y="448" width="11" height="1" fill="#000"/><rect x="5" y="371" width="1612" height="2" fill="#ff0000"/><rect x="5" y="403" width="1612" height="2" fill="#ff0000"/><rect x="5" y="401" width="5" height="6" fill="#ff0000"/><rect x="7" y="403" width="2" height="2" fill="#fff"/><rect x="1611" y="401" width="6" height="6" fill="#ff0000"/><rect x="1613" y="403" width="2" height="2" fill="#fff"/><rect x="5" y="436" width="1612" height="2" fill="#ff8c00"/><rect x="5" y="434" width="5" height="6" fill="#ff8c00"/><rect x="7" y="436" width="2" height="2" fill="#fff"/><rect x="1611" y="434" width="6" height="6" fill="#ff8c00"/><rect x="1613" y="436" width="2" height="2" fill="#fff"/><rect x="5" y="475" width="1612" height="2" fill="#0000ff"/><rect x="5" y="505" width="1612" height="2" fill="#0000ff"/><rect x="5" y="503" width="5" height="6" fill="#0000ff"/><rect x="7" y="505" width="2" height="2" fill="#fff"/><rect x="1611" y="503" width="6" height="6" fill="#0000ff"/><rect x="1613" y="505" width="2" height="2" fill="#fff"/></g>
<g clip-path="url(#cd)"><rect x="5" y="632" width="2" height="1" fill="#00ff00"/><rect x="20" y="629" width="3" height="4" fill="#00ff00"/><rect x="36" y="626" width="3" height="7" fill="#00ff00"/><rect x="52" y="624" width="3" height="9" fill="#00ff00"/><rect x="68" y="618" width="3" height="15" fill="#00ff00"/><rect x="84" y="614" width="3" height="19" fill="#00ff00"/><rect x="100" y="611" width="3" height="22" fill="#00ff00"/><rect x="116" y="608" width="3" height="25" fill="#00ff00"/><rect x="132" y="606" width="3" height="27" fill="#00ff00"/><rect x="148" y="606" width="3" height="27" fill="#00ff00"/><rect x="164" y="604" width="3" height="29" fill="#00ff00"/><rect x="180" y="602" width="3" height="31" fill="#00ff00"/><rect x="196" y="601" width="3" height="32" fill="#00ff00"/><rect x="212" y="597" width="3" height="36" fill="#00ff00"/><rect x="228" y="593" width="3" height="40" fill="#00ff00"/><rect x="244" y="592" width="3" height="41" fill="#00ff00"/><rect x="260" y="593" width="3" height="40" fill="#00ff00"/><rect x="276" y="591" width="3" height="42" fill="#00ff00"/><rect x="292" y="590" width="3" height="43" fill="#00ff00"/><rect x="308" y="590" width="3" height="43" fill="#00ff00"/><rect x="324" y="589" width="3" height="44" fill="#00ff00"/><rect x="340" y="589" width="3" height="44" fill="#00ff00"/><rect x="356" y="592" width="3" height="41" fill="#00ff00"/><rect x="372" y="593" width="3" height="40" fill="#00ff00"/><rect x="388" y="594" width="3" height="39" fill="#00ff00"/><rect x="404" y="595" width="3" height="38" fill="#00ff00"/><rect x="420" y="597" width="3" height="36" fill="#00ff00"/><rect x="436" y="599" width="3" height="34" fill="#00ff00"/><rect x="452" y="602" width="3" height="31" fill="#00ff00"/><rect x="468" y="603" width="3" height="30" fill="#00ff00"/><rect x="484" y="605" width="3" height="28" fill="#00ff00"/><rect x="500" y="608" width="3" height="25" fill="#00ff00"/><rect x="516" y="612" width="3" height="21" fill="#00ff00"/><rect x="532" y="615" width="3" height="18" fill="#00ff00"/><rect x="548" y="618" width="3" height="15" fill="#00ff00"/><rect x="564" y="622" width="3" height="11" fill="#00ff00"/><rect x="580" y="625" width="3" height="8" fill="#00ff00"/><rect x="596" y="630" width="3" height="3" fill="#00ff00"/><rect x="612" y="633" width="3" height="1" fill="#00ff00"/><rect x="628" y="633" width="3" height="8" fill="#00ff00"/><rect x="644" y="633" width="3" height="9" fill="#00ff00"/><rect x="660" y="633" width="3" height="8" fill="#00ff00"/><rect x="676" y="633" width="3" height="8" fill="#00ff00"/><rect x="692" y="633" width="3" height="8" fill="#00ff00"/><rect x="708" y="633" width="3" height="4" fill="#00ff00"/><rect x="724" y="633" width="3" height="3" fill="#00ff00"/><rect x="740" y="633" width="3" height="1" fill="#00ff00"/><rect x="756" y="628" width="3" height="5" fill="#00ff00"/><rect x="772" y="621" width="3" height="12" fill="#00ff00"/><rect x="788" y="617" width="3" height="16" fill="#00ff00"/><rect x="804" y="614" width="3" height="19" fill="#00ff00"/><rect x="820" y="613" width="3" height="20" fill="#00ff00"/><rect x="836" y="614" width="3" height="19" fill="#00ff00"/><rect x="852" y="618" width="3" height="15" fill="#00ff00"/><rect x="868" y="622" width="3" height="11" fill="#00ff00"/><rect x="884" y="626" width="3" height="7" fill="#00ff00"/><rect x="900" y="629" width="3" height="4" fill="#00ff00"/><rect x="916" y="632" width="3" height="1" fill="#00ff00"/><rect x="932" y="633" width="3" height="10" fill="#00ff00"/><rect x="948" y="633" width="3" height="22" fill="#00ff00"/><rect x="964" y="633" width="3" height="32" fill="#00ff00"/><rect x="980" y="633" width="3" height="37" fill="#00ff00"/><rect x="996" y="633" width="3" height="43" fill="#00ff00"/><rect x="1012" y="633" width="3" height="49" fill="#00ff00"/><rect x="1028" y="633" width="3" height="57" fill="#00ff00"/><rect x="1044" y="633" width="3" height="60" fill="#00ff00"/><rect x="1060" y="633" width="3" height="61" fill="#00ff00"/><rect x="1076" y="633" width="3" height="57" fill="#00ff00"/><rect x="1092" y="633" width="3" height="54" fill="#00ff00"/><rect x="1108" y="633" width="3" height="51" fill="#00ff00"/><rect x="1124" y="633" width="3" height="50" fill="#00ff00"/><rect x="1140" y="633" width="3" height="45" fill="#00ff00"/><rect x="1156" y="633" width="3" height="39" fill="#00ff00"/><rect x="1172" y="633" width="3" height="34" fill="#00ff00"/><rect x="1188" y="633" width="3" height="27" fill="#00ff00"/><rect x="1204" y="633" width="3" height="23" fill="#00ff00"/><rect x="1220" y="633" width="3" height="23" fill="#00ff00"/><rect x="1236" y="633" width="3" height="24" fill="#00ff00"/><rect x="1252" y="633" width="3" height="24" fill="#00ff00"/><polyline points="5,642.1999999999999 21,640.0999999999999 37,638.5999999999999 53,636.3 69,633.0999999999999 85,629.5999999999999 101,626.1999999999999 117,622.4 133,619.3 149,616.6999999999999 165,614.0 181,610.6999999999999 197,608.5 213,605.5999999999999 229,603.6999999999999 245,601.5 261,599.3 277,598.4 293,596.8 309,594.9 325,593.5999999999999 341,592.4 357,591.4 373,591.4 389,591.4 405,591.8 421,592.1999999999999 437,593.0999999999999 453,594.4 469,596.4 485,598.3 501,600.4 517,602.6999999999999 533,604.1999999999999 549,607.4 565,609.3 581,612.4 597,614.9 613,619.1999999999999 629,623.5999999999999 645,626.5 661,628.5999999999999 677,632.4 693,634.9 709,636.5999999999999 725,638.0999999999999 741,638.0999999999999 757,637.8 773,635.5999999999999 789,633.0 805,629.6999999999999 821,626.5 837,624.5 853,621.0999999999999 869,620.4 885,619.8 901,619.4 917,620.4 933,623.5999999999999 949,628.0 965,633.3 981,640.5999999999999 997,646.3 1013,652.6999999999999 1029,659.5 1045,666.3 1061,673.3 1077,679.8 1093,683.0 1109,684.5999999999999 1125,685.9 1141,686.1999999999999 1157,685.9 1173,682.5 1189,678.9 1205,674.4 1221,671.5999999999999 1237,667.9 1253,665.1999999999999" fill="none" stroke="#ff0000" stroke-width="2"/></g>
<g clip-path="url(#cr)"><line x1="6" y1="723.5" x2="1617" y2="723.5" stroke="#000" stroke-width="1" stroke-dasharray="3,3"/><line x1="6" y1="755.5" x2="1617" y2="755.5" stroke="#000" stroke-width="1" stroke-dasharray="3,3"/><line x1="6" y1="792.5" x2="1617" y2="792.5" stroke="#000" stroke-width="1" stroke-dasharray="3,3"/><polyline points="5,746 21,746 37,746 53,744.9 69,737.8 85,739.8 101,739.8 117,738 133,737.8 149,742 165,737.2 181,736.9 197,736.9 213,729.1 229,729.1 245,735.7 261,737.8 277,733.1 293,732.9 309,731.9 325,731.6 341,731.6 357,744.9 373,739.2 389,739.2 405,740.4 421,741.4 437,741.8 453,746.7 469,743.9 485,743.9 501,752.7 517,753 533,755.9 549,754.9 565,760.9 581,760.9 597,766.9 613,766.9 629,775.2 645,760.1 661,758 677,758 693,758 709,751.1 725,751.1 741,751.1 757,739.9 773,737 789,738.2 805,739 821,742.7 837,749.6 853,757.8 869,757.8 885,760.9 901,761.6 917,761.8 933,777.7 949,783 965,783 981,781.4 997,781.1 1013,783.7 1029,786.5 1045,780.8 1061,778.7 1077,767 1093,767 1109,768.3 1125,768.3 1141,761.9 1157,757.6 1173,756.9 1189,753 1205,756.1 1221,762.3 1237,764.4 1253,764.7" fill="none" stroke="#1e90ff" stroke-width="2"/></g>
<!-- labels -->
<polygon points="8,30 15,30 11.5,34" fill="#000" shape-rendering="auto"/>
<text transform="translate(21,35) scale(0.9506,1)" fill="#000" stroke="#000">AUDUSD-,H4</text>
<text transform="translate(85,35) scale(0.9212,1)" fill="#000" stroke="#000">0.69270</text>
<text transform="translate(121,35) scale(0.9212,1)" fill="#000" stroke="#000">0.69298</text>
<text transform="translate(157,35) scale(0.9212,1)" fill="#000" stroke="#000">0.69212</text>
<text transform="translate(193,35) scale(0.9212,1)" fill="#000" stroke="#000">0.69266</text>
<text transform="translate(9,596) scale(0.9310,1)" fill="#000" stroke="#000">MACD(12,26,9) -0.002031 -0.002732</text>
<text transform="translate(9,715) scale(0.9310,1)" fill="#000" stroke="#000">RSI(14) 40.7946</text>
<rect x="1618" y="49" width="2" height="1" fill="#000"/><text transform="translate(1623,53) scale(0.9212,1)" fill="#000" stroke="#000">0.71615</text><rect x="1618" y="82" width="2" height="1" fill="#000"/><text transform="translate(1623,86) scale(0.9212,1)" fill="#000" stroke="#000">0.71420</text><rect x="1618" y="115" width="2" height="1" fill="#000"/><text transform="translate(1623,119) scale(0.9212,1)" fill="#000" stroke="#000">0.71230</text><rect x="1618" y="148" width="2" height="1" fill="#000"/><text transform="translate(1623,152) scale(0.9212,1)" fill="#000" stroke="#000">0.71035</text><rect x="1618" y="181" width="2" height="1" fill="#000"/><text transform="translate(1623,185) scale(0.9212,1)" fill="#000" stroke="#000">0.70840</text><rect x="1618" y="214" width="2" height="1" fill="#000"/><text transform="translate(1623,218) scale(0.9212,1)" fill="#000" stroke="#000">0.70645</text><rect x="1618" y="247" width="2" height="1" fill="#000"/><text transform="translate(1623,251) scale(0.9212,1)" fill="#000" stroke="#000">0.70455</text><rect x="1618" y="280" width="2" height="1" fill="#000"/><text transform="translate(1623,284) scale(0.9212,1)" fill="#000" stroke="#000">0.70260</text><rect x="1618" y="313" width="2" height="1" fill="#000"/><text transform="translate(1623,317) scale(0.9212,1)" fill="#000" stroke="#000">0.70065</text><rect x="1618" y="346" width="2" height="1" fill="#000"/><text transform="translate(1623,350) scale(0.9212,1)" fill="#000" stroke="#000">0.69870</text><rect x="1618" y="379" width="2" height="1" fill="#000"/><text transform="translate(1623,383) scale(0.9212,1)" fill="#000" stroke="#000">0.69675</text><rect x="1618" y="412" width="2" height="1" fill="#000"/><text transform="translate(1623,416) scale(0.9212,1)" fill="#000" stroke="#000">0.69485</text><rect x="1618" y="445" width="2" height="1" fill="#000"/><text transform="translate(1623,449) scale(0.9212,1)" fill="#000" stroke="#000">0.69290</text><rect x="1618" y="478" width="2" height="1" fill="#000"/><text transform="translate(1623,482) scale(0.9212,1)" fill="#000" stroke="#000">0.69095</text><rect x="1618" y="511" width="2" height="1" fill="#000"/><text transform="translate(1623,515) scale(0.9212,1)" fill="#000" stroke="#000">0.68900</text><rect x="1618" y="544" width="2" height="1" fill="#000"/><text transform="translate(1623,548) scale(0.9212,1)" fill="#000" stroke="#000">0.68710</text><rect x="1618" y="577" width="2" height="1" fill="#000"/><text transform="translate(1623,581) scale(0.9212,1)" fill="#000" stroke="#000">0.68515</text>
<rect x="1619" y="366" width="41" height="11" fill="#ff0000"/><text transform="translate(1623,375) scale(0.9212,1)" fill="#fff" stroke="#fff">0.69720</text><rect x="1619" y="398" width="41" height="11" fill="#ff0000"/><text transform="translate(1623,407) scale(0.9212,1)" fill="#fff" stroke="#fff">0.69532</text><rect x="1619" y="431" width="41" height="11" fill="#ff8c00"/><text transform="translate(1623,440) scale(0.9212,1)" fill="#fff" stroke="#fff">0.69338</text><rect x="1619" y="444" width="41" height="11" fill="#000"/><text transform="translate(1623,453) scale(0.9212,1)" fill="#fff" stroke="#fff">0.69266</text><rect x="1619" y="470" width="41" height="11" fill="#0000ff"/><text transform="translate(1623,479) scale(0.9212,1)" fill="#fff" stroke="#fff">0.69109</text><rect x="1619" y="500" width="41" height="11" fill="#0000ff"/><text transform="translate(1623,509) scale(0.9212,1)" fill="#fff" stroke="#fff">0.68934</text>
<g shape-rendering="auto"><line x1="1265" y1="350" x2="1308" y2="404" stroke="#4f9a2f" stroke-width="3"/><polygon points="1301,408 1314.3,397.3 1318.4,416.2" fill="#4f9a2f"/></g>
<rect x="5" y="809" width="1" height="3" fill="#000"/><text transform="translate(4,821) scale(0.9212,1)" fill="#000" stroke="#000">22 Jan 2023</text><rect x="69" y="809" width="1" height="3" fill="#000"/><text transform="translate(68,821) scale(0.9212,1)" fill="#000" stroke="#000">23 Jan 12:00</text><rect x="133" y="809" width="1" height="3" fill="#000"/><text transform="translate(132,821) scale(0.9212,1)" fill="#000" stroke="#000">24 Jan 04:00</text><rect x="197" y="809" width="1" height="3" fill="#000"/><text transform="translate(196,821) scale(0.9212,1)" fill="#000" stroke="#000">24 Jan 20:00</text><rect x="261" y="809" width="1" height="3" fill="#000"/><text transform="translate(260,821) scale(0.9212,1)" fill="#000" stroke="#000">25 Jan 12:00</text><rect x="325" y="809" width="1" height="3" fill="#000"/><text transform="translate(324,821) scale(0.9212,1)" fill="#000" stroke="#000">26 Jan 04:00</text><rect x="389" y="809" width="1" height="3" fill="#000"/><text transform="translate(388,821) scale(0.9212,1)" fill="#000" stroke="#000">26 Jan 20:00</text><rect x="453" y="809" width="1" height="3" fill="#000"/><text transform="translate(452,821) scale(0.9212,1)" fill="#000" stroke="#000">27 Jan 12:00</text><rect x="517" y="809" width="1" height="3" fill="#000"/><text transform="translate(516,821) scale(0.9212,1)" fill="#000" stroke="#000">30 Jan 04:00</text><rect x="581" y="809" width="1" height="3" fill="#000"/><text transform="translate(580,821) scale(0.9212,1)" fill="#000" stroke="#000">30 Jan 20:00</text><rect x="645" y="809" width="1" height="3" fill="#000"/><text transform="translate(644,821) scale(0.9212,1)" fill="#000" stroke="#000">31 Jan 12:00</text><rect x="709" y="809" width="1" height="3" fill="#000"/><text transform="translate(708,821) scale(0.9212,1)" fill="#000" stroke="#000">1 Feb 04:00</text><rect x="773" y="809" width="1" height="3" fill="#000"/><text transform="translate(772,821) scale(0.9212,1)" fill="#000" stroke="#000">1 Feb 20:00</text><rect x="837" y="809" width="1" height="3" fill="#000"/><text transform="translate(836,821) scale(0.9212,1)" fill="#000" stroke="#000">2 Feb 12:00</text><rect x="901" y="809" width="1" height="3" fill="#000"/><text transform="translate(900,821) scale(0.9212,1)" fill="#000" stroke="#000">3 Feb 04:00</text><rect x="965" y="809" width="1" height="3" fill="#000"/><text transform="translate(964,821) scale(0.9212,1)" fill="#000" stroke="#000">5 Feb 23:00</text><rect x="1029" y="809" width="1" height="3" fill="#000"/><text transform="translate(1028,821) scale(0.9212,1)" fill="#000" stroke="#000">6 Feb 12:00</text><rect x="1093" y="809" width="1" height="3" fill="#000"/><text transform="translate(1092,821) scale(0.9212,1)" fill="#000" stroke="#000">7 Feb 04:00</text><rect x="1157" y="809" width="1" height="3" fill="#000"/><text transform="translate(1156,821) scale(0.9212,1)" fill="#000" stroke="#000">7 Feb 20:00</text><rect x="1221" y="809" width="1" height="3" fill="#000"/><text transform="translate(1220,821) scale(0.9212,1)" fill="#000" stroke="#000">8 Feb 12:00</text>
<text transform="translate(1621,593) scale(0.9016,1)" fill="#000" stroke="#000">0.004243</text>
<rect x="1618" y="584" width="1" height="1" fill="#000"/>
<rect x="1618" y="633" width="2" height="1" fill="#000"/>
<text transform="translate(1621,637) scale(0.9016,1)" fill="#000" stroke="#000">0.00</text>
<text transform="translate(1621,697) scale(0.9016,1)" fill="#000" stroke="#000">-0.005709</text>
<text transform="translate(1621,713) scale(0.8820,1)" fill="#000" stroke="#000">100</text>
<text transform="translate(1620,727) scale(0.8820,1)" fill="#000" stroke="#000">80</text>
<text transform="translate(1620,759) scale(0.8820,1)" fill="#000" stroke="#000">50</text>
<text transform="translate(1620,796) scale(0.8820,1)" fill="#000" stroke="#000">15</text>
<text transform="translate(1621,805) scale(0.8820,1)" fill="#000" stroke="#000">0</text>
</svg>
</body></html>
